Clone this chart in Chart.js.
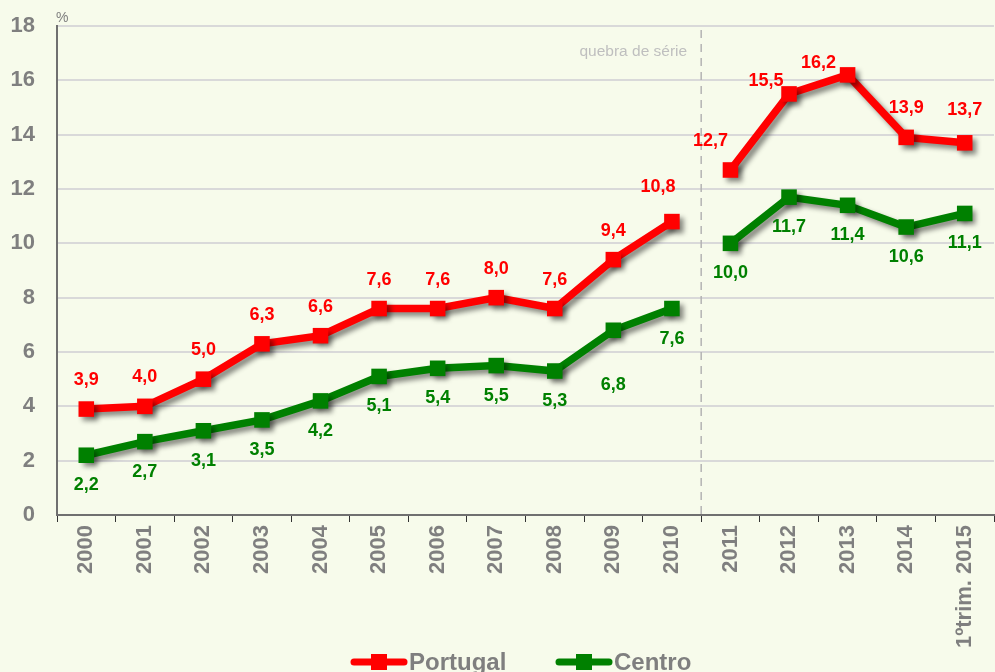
<!DOCTYPE html>
<html>
<head>
<meta charset="utf-8">
<script src="https://cdn.jsdelivr.net/npm/chart.js@4/dist/chart.umd.min.js"></script>
<style>
  html, body { margin: 0; padding: 0; background: #f7fbeb; }
  #wrap { width: 995px; height: 672px; }
</style>
</head>
<body>
<div id="wrap"><canvas id="chart"></canvas></div>
<script>
// taxa de desemprego (%), Portugal e Centro
var years = ['2000', '2001', '2002', '2003', '2004', '2005', '2006', '2007',
             '2008', '2009', '2010', '2011', '2012', '2013', '2014', '1ºtrim. 2015'];
var portugal = [3.9, 4.0, 5.0, 6.3, 6.6, 7.6, 7.6, 8.0, 7.6, 9.4, 10.8, 12.7, 15.5, 16.2, 13.9, 13.7];
var centro = [2.2, 2.7, 3.1, 3.5, 4.2, 5.1, 5.4, 5.5, 5.3, 6.8, 7.6, 10.0, 11.7, 11.4, 10.6, 11.1];
var yTicks = [0, 2, 4, 6, 8, 10, 12, 14, 16, 18];
var breakAfter = 10; // quebra de série entre 2010 e 2011

var RED = '#ff0000', GREEN = '#008000', GREY = '#7f7f7f';
var FONT = 'Arial, "Liberation Sans", sans-serif';

function fmt(v) { return v.toFixed(1).replace('.', ','); }

// label nudges where the text would collide with the line
var redShift = { 10: [-14, -35], 11: [-20, -29], 12: [-23, -13], 13: [-29, -12], 15: [0, -33] };
var greenShift = { 9: [0, 55] };

var background = {
  id: 'background',
  beforeDraw: function (chart) {
    var c = chart.ctx;
    c.save();
    c.fillStyle = '#f7fbeb';
    c.fillRect(0, 0, chart.width, chart.height);
    c.restore();
  }
};

// soft drop shadow under lines and markers
var shadow = {
  id: 'shadow',
  beforeDatasetDraw: function (chart) {
    var c = chart.ctx;
    c.save();
    c.shadowColor = 'rgba(0,0,0,0.45)';
    c.shadowBlur = 5;
    c.shadowOffsetX = 4;
    c.shadowOffsetY = 4;
  },
  afterDatasetDraw: function (chart) {
    chart.ctx.restore();
  }
};

var seriesBreak = {
  id: 'seriesBreak',
  beforeDatasetsDraw: function (chart) {
    var c = chart.ctx, x = chart.scales.x, a = chart.chartArea;
    var px = (x.getPixelForValue(breakAfter) + x.getPixelForValue(breakAfter + 1)) / 2;
    c.save();
    c.strokeStyle = '#b4b4b4';
    c.lineWidth = 1.5;
    c.setLineDash([8, 6]);
    c.beginPath();
    c.moveTo(px, a.top + 4);
    c.lineTo(px, a.bottom);
    c.stroke();
    c.setLineDash([]);
    c.fillStyle = '#bfbfbf';
    c.font = '15.5px ' + FONT;
    c.textAlign = 'right';
    c.textBaseline = 'middle';
    c.fillText('quebra de série', px - 14, a.top + 26);
    c.fillStyle = GREY;
    c.font = '14px ' + FONT;
    c.textAlign = 'left';
    c.textBaseline = 'bottom';
    c.fillText('%', a.left - 1, a.top - 1);
    c.restore();
  }
};

var valueLabels = {
  id: 'valueLabels',
  afterDatasetsDraw: function (chart) {
    var c = chart.ctx;
    c.save();
    c.font = 'bold 18px ' + FONT;
    c.textAlign = 'center';
    c.textBaseline = 'middle';
    chart.data.datasets.forEach(function (ds, di) {
      var meta = chart.getDatasetMeta(di);
      var shifts = di === 0 ? redShift : greenShift;
      var dy = di === 0 ? -29 : 30;
      c.fillStyle = ds.borderColor;
      meta.data.forEach(function (pt, i) {
        var s = shifts[i] || [0, dy];
        c.fillText(fmt(ds.data[i]), pt.x + s[0], pt.y + s[1]);
      });
    });
    c.restore();
  }
};

var bottomLegend = {
  id: 'bottomLegend',
  afterDraw: function (chart) {
    var c = chart.ctx;
    var items = [{ x: 350, i: 0 }, { x: 555, i: 1 }];
    c.save();
    items.forEach(function (it) {
      var ds = chart.data.datasets[it.i];
      var y = 662;
      c.strokeStyle = ds.borderColor;
      c.lineWidth = 7;
      c.lineCap = 'round';
      c.beginPath();
      c.moveTo(it.x + 4, y);
      c.lineTo(it.x + 54, y);
      c.stroke();
      c.fillStyle = ds.borderColor;
      c.fillRect(it.x + 21, y - 8, 16, 16);
      c.fillStyle = GREY;
      c.font = 'bold 24px ' + FONT;
      c.textAlign = 'left';
      c.textBaseline = 'alphabetic';
      c.fillText(ds.label, it.x + 59, y + 8);
    });
    c.restore();
  }
};

function lineSet(label, data, color) {
  return {
    label: label,
    data: data,
    borderColor: color,
    backgroundColor: color,
    borderWidth: 7.5,
    tension: 0,
    pointStyle: 'rect',
    pointRadius: 11,
    pointHoverRadius: 11,
    pointBorderWidth: 0,
    pointBackgroundColor: color,
    segment: {
      borderColor: function (ctx) {
        return ctx.p0DataIndex === breakAfter ? 'rgba(0,0,0,0)' : color;
      }
    }
  };
}

new Chart(document.getElementById('chart'), {
  type: 'line',
  data: {
    labels: years,
    datasets: [lineSet('Portugal', portugal, RED), lineSet('Centro', centro, GREEN)]
  },
  options: {
    responsive: true,
    maintainAspectRatio: false,
    animation: false,
    layout: { autoPadding: false, padding: { top: 26, right: 1, bottom: 0, left: 0 } },
    plugins: {
      legend: { display: false },
      tooltip: { enabled: false }
    },
    scales: {
      x: {
        offset: true,
        afterFit: function (scale) {
          scale.height = 157;
          scale.paddingLeft = 0;
          scale.paddingRight = 0;
        },
        grid: {
          offset: true,
          drawOnChartArea: false,
          drawTicks: true,
          tickLength: 7,
          color: '#333333',
          lineWidth: 1
        },
        border: { display: true, color: '#707070', width: 2 },
        ticks: {
          color: GREY,
          font: { family: FONT, size: 22, weight: 'bold' },
          minRotation: 90,
          maxRotation: 90,
          padding: 3,
          autoSkip: false
        }
      },
      y: {
        min: 0,
        max: 18,
        afterFit: function (scale) {
          scale.width = 57;
          scale.paddingTop = 0;
          scale.paddingBottom = 0;
        },
        afterBuildTicks: function (scale) {
          scale.ticks = yTicks.map(function (v) { return { value: v }; });
        },
        grid: {
          color: '#d9d9d9',
          lineWidth: 2,
          drawTicks: false
        },
        border: { display: true, color: '#707070', width: 2 },
        ticks: {
          color: GREY,
          font: { family: FONT, size: 22, weight: 'bold' },
          padding: 22
        }
      }
    }
  },
  plugins: [background, shadow, seriesBreak, valueLabels, bottomLegend]
});
</script>
</body>
</html>
